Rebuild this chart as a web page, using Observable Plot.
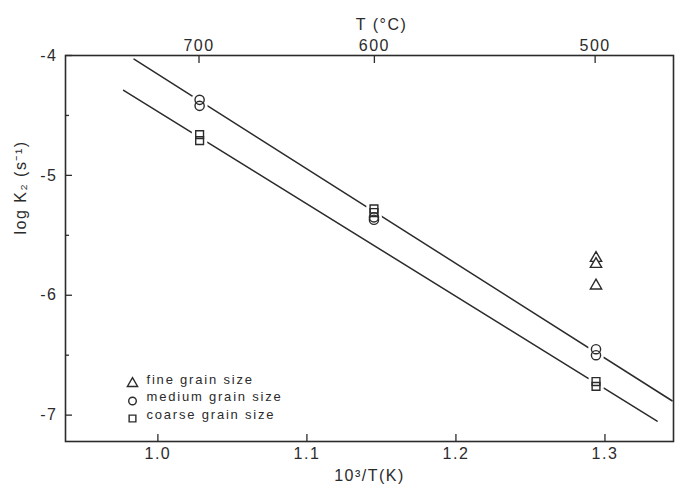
<!DOCTYPE html>
<html><head><meta charset="utf-8">
<script src="https://cdn.jsdelivr.net/npm/d3@7"></script>
<script src="https://cdn.jsdelivr.net/npm/@observablehq/plot@0.6"></script>
<style>
html,body{margin:0;padding:0;background:#fff;}
#chart svg{display:block;}
</style></head><body><div id="chart"></div>
<script>
// ---- data ----
const xTicks = [1.0, 1.1, 1.2, 1.3];
const yTicks = [-4, -5, -6, -7];
const yMinorTicks = [-4.5, -5.5, -6.5];
const topTicksC = [700, 600, 500];

const fineX = [1.294, 1.294, 1.294];
const fineY = [-5.69, -5.74, -5.92];
const mediumX = [1.028, 1.028, 1.145, 1.145, 1.294, 1.294];
const mediumY = [-4.37, -4.42, -5.35, -5.37, -6.45, -6.50];
const coarseX = [1.028, 1.028, 1.145, 1.145, 1.294, 1.294];
const coarseY = [-4.66, -4.71, -5.28, -5.31, -6.72, -6.76];

const upperLineX = [0.984, 1.345];
const upperLineY = [-4.03, -6.88];
const lowerLineX = [0.977, 1.335];
const lowerLineY = [-4.29, -7.05];

const legendLabels = ["fine grain size", "medium grain size", "coarse grain size"];
const legendSymbols = ["triangle", "circle", "square"];

// ---- build ----
const ink = "#2b2b2b";
const font = "'Liberation Sans', Arial, Helvetica, sans-serif";
const zip = (xs, ys) => xs.map((x, i) => ({x, y: ys[i]}));
const fine = zip(fineX, fineY);
const medium = zip(mediumX, mediumY);
const coarse = zip(coarseX, coarseY);
const upperLine = zip(upperLineX, upperLineY);
const lowerLine = zip(lowerLineX, lowerLineY);
const topTicksX = topTicksC.map(c => 1000 / (c + 273.15));

const W = 676, H = 497, mL = 65, mR = 3, mT = 55, mB = 56;
const legendRows = [-58, -40.5, -23];

const legendMarks = legendLabels.flatMap((lab, i) => [
  Plot.dot([0], {frameAnchor: "bottom-left", dx: 67, dy: legendRows[i], symbol: legendSymbols[i], r: 3.8, stroke: ink, strokeWidth: 1.4, fill: "white"}),
  Plot.text([lab], {frameAnchor: "bottom-left", dx: 81, dy: legendRows[i], textAnchor: "start", fontSize: 13, fill: ink})
]);

const chart = Plot.plot({
  width: W, height: H,
  marginLeft: mL, marginRight: mR, marginTop: mT, marginBottom: mB,
  style: {fontFamily: font, fontSize: "16px", color: ink, background: "#fff"},
  x: {domain: [0.938, 1.346]},
  y: {domain: [-7.22, -4.0]},
  marks: [
    Plot.line(upperLine, {x: "x", y: "y", stroke: ink, strokeWidth: 1.5}),
    Plot.line(lowerLine, {x: "x", y: "y", stroke: ink, strokeWidth: 1.5}),
    Plot.dot(medium, {x: "x", y: "y", r: 8, fill: "white"}),
    Plot.dot(coarse, {x: "x", y: "y", r: 8, fill: "white"}),
    Plot.dot(fine, {x: "x", y: "y", symbol: "triangle", r: 4.2, stroke: ink, strokeWidth: 1.4, fill: "white"}),
    Plot.dot(medium, {x: "x", y: "y", symbol: "circle", r: 4.6, stroke: ink, strokeWidth: 1.4, fill: "none"}),
    Plot.dot(coarse, {x: "x", y: "y", symbol: "square", r: 4.4, stroke: ink, strokeWidth: 1.4, fill: "none"}),
    Plot.frame({stroke: ink, strokeWidth: 1.6}),
    Plot.axisX({anchor: "bottom", ticks: xTicks, tickSize: -7, tickFormat: () => "", label: null, stroke: ink, strokeWidth: 1.3}),
    Plot.axisX({anchor: "bottom", ticks: xTicks, tickSize: 0, tickPadding: 6, tickFormat: d => d.toFixed(1), label: null, fill: ink}),
    Plot.axisX({anchor: "top", ticks: topTicksX, tickSize: -7, tickFormat: () => "", label: null, stroke: ink, strokeWidth: 1.3}),
    Plot.axisX({anchor: "top", ticks: topTicksX, tickSize: 0, tickPadding: 5, tickFormat: d => String(Math.round(1000 / d - 273.15)), label: null, fill: ink}),
    Plot.axisY({anchor: "left", ticks: yTicks, tickSize: -7, tickFormat: () => "", label: null, stroke: ink, strokeWidth: 1.3}),
    Plot.axisY({anchor: "left", ticks: yMinorTicks, tickSize: -4, tickFormat: () => "", label: null, stroke: ink, strokeWidth: 1.3}),
    Plot.axisY({anchor: "left", ticks: yTicks, tickSize: 0, tickPadding: 8, tickFormat: d => String(d), label: null, fill: ink}),
    Plot.text(["10³/T(K)"], {frameAnchor: "bottom", dy: 39, fontSize: 16, fill: ink}),
    Plot.text(["T (°C)"], {frameAnchor: "top", dx: 12, dy: -37, fontSize: 16, fill: ink}),
    Plot.text(["log K₂ (s⁻¹)"], {frameAnchor: "left", dx: -45, dy: -14, rotate: -90, fontSize: 16, fill: ink}),
    ...legendMarks
  ]
});
document.getElementById("chart").appendChild(chart);
d3.select(chart).selectAll("text").style("letter-spacing", "1.5px");
d3.select(chart).selectAll("text").filter(function() { return legendLabels.includes(this.textContent); }).style("letter-spacing", "1.8px");
</script>
</body></html>
